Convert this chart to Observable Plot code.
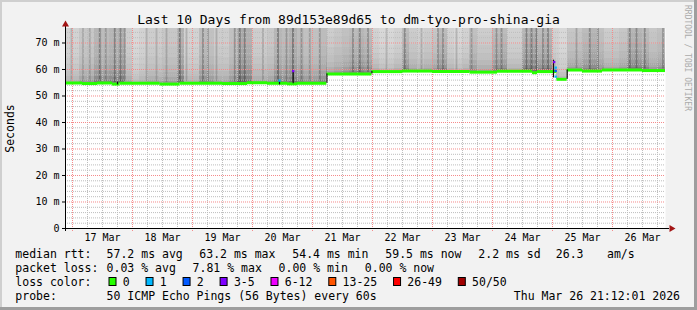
<!DOCTYPE html>
<html><head><meta charset="utf-8">
<script src="https://cdn.jsdelivr.net/npm/d3@7"></script>
<script src="https://cdn.jsdelivr.net/npm/@observablehq/plot@0.6"></script>
<style>
html,body{margin:0;padding:0;background:#f2f2f2;}
#chart{position:relative;width:697px;height:310px;overflow:hidden;}
#chart svg{position:absolute;left:0;top:0;}
</style></head><body><div id="chart"></div>
<script>
// ---------------- DATA ----------------
const titleText = "Last 10 Days from 89d153e89d65 to dm-tyo-pro-shina-gia";
const startISO = "2026-03-16T21:12:01";
const endISO = "2026-03-26T21:12:01";
const yMax = 75.47; // ms

// median rtt (ms), step series: value starts at time
const medianTimes = ["2026-03-16T21:12","2026-03-17T04:00","2026-03-17T10:00","2026-03-17T16:00","2026-03-17T19:00",
  "2026-03-18T11:00","2026-03-18T19:00","2026-03-19T12:00","2026-03-19T22:00","2026-03-20T06:00","2026-03-20T14:00",
  "2026-03-20T18:00","2026-03-21T05:45","2026-03-21T23:45","2026-03-22T12:00","2026-03-23T00:00","2026-03-23T15:00",
  "2026-03-24T02:00","2026-03-24T16:00","2026-03-24T18:00","2026-03-25T01:45","2026-03-25T05:53","2026-03-25T12:00",
  "2026-03-25T20:00","2026-03-26T12:00"];
const medianValues = [54.9,54.7,54.9,54.5,54.8,54.5,54.8,54.7,55.0,54.8,54.6,54.8,58.3,59.2,59.4,59.2,59.0,
  59.3,58.8,59.2,56.3,59.8,59.4,59.8,59.6];

// smoke: darkness of the ping spread in 3-hour bins from Mar 16 21:00 (0..1)
const smokeBinStartISO = "2026-03-16T21:00";
const smokeIntensity = [0.4,0.4,0.5,0.5,0.65,0.6,0.65,0.7,0.45,0.35,0.4,0.45,0.45,0.5,0.5,0.7,0.4,0.4,0.6,0.55,
  0.45,0.45,0.55,0.75,0.7,0.45,0.45,0.5,0.65,0.6,0.7,0.6,0.55,0.55,0.6,0.45,0.5,0.55,0.6,0.65,
  0.6,0.4,0.35,0.35,0.4,0.6,0.45,0.4,0.45,0.5,0.6,0.4,0.35,0.4,0.55,0.45,0.45,0.6,0.6,0.4,
  0.4,0.65,0.7,0.6,0.65,0.4,0.35,0.5,0.5,0.6,0.65,0.55,0.45,0.45,0.5,0.65,0.65,0.6,0.5,0.55,0.55];
// ping spread above the median (ms) bounding each smoke band
const smokeBandEdges = [0, 1, 2.5, 4.5, 7, 10, 14, 30];

// dark streaks in the smoke: hours after Mar 17 00:00, darkness
const streakHours = [-0.2,4.4,7.1,11.1,13.5,17.1,19.4,21.1,29.8,33.8,37.8,43.1,45.8,52.4,54.4,57.8,65.1,67.1,69.1,76.4,
  82.4,85.8,88.4,91.8,95.1,99.1,112.4,115.1,118.4,125.8,133.1,139.8,146.4,148.4,153.8,159.8,169.8,171.8,181.8,183.8,
  185.8,188.4,190.4,201.8,207.1,210.4,223.1,225.8,229.1,236.4];
const streakStrength = [0.4,0.35,0.4,0.7,0.45,0.7,0.6,0.7,0.4,0.35,0.4,0.75,0.4,0.6,0.5,0.4,0.6,0.7,0.7,0.4,
  0.75,0.5,0.8,0.55,0.45,0.5,0.6,0.65,0.55,0.35,0.65,0.4,0.6,0.55,0.4,0.5,0.55,0.6,0.7,0.65,
  0.7,0.6,0.65,0.45,0.6,0.6,0.65,0.6,0.65,0.55];

// dense smoke at median jumps: time, low ms, high ms
const spikeTimes = ["2026-03-17T18:00","2026-03-20T10:48","2026-03-20T16:17","2026-03-21T05:45","2026-03-21T23:45","2026-03-25T00:24","2026-03-25T05:53"];
const spikeLow =  [54.2,54.2,54.6,54.8,58.3,56.8,56.3];
const spikeHigh = [55.2,55.5,59.6,58.3,59.2,63.5,59.8];

// loss-coloured median samples: time, ms, loss class index
const lossTimes = ["2026-03-20T16:17","2026-03-25T00:41","2026-03-25T01:17","2026-03-25T01:17","2026-03-25T01:17","2026-03-20T10:48"];
const lossValues = [59.4,62.8,60.7,59.5,57.3,55.8];
const lossClass = [3,3,1,2,1,1];

const lossLabels = ["0","1","2","3-5","6-12","13-25","26-49","50/50"];
const lossColors = ["#26ff00","#00b8ff","#0059ff","#7e00ff","#ee00ff","#ff5500","#ff0000","#a10000"];

const yTicks = [0,10,20,30,40,50,60,70];
const dayLabels = ["17 Mar","18 Mar","19 Mar","20 Mar","21 Mar","22 Mar","23 Mar","24 Mar","25 Mar","26 Mar"];

const legendRtt = ["median rtt:","57.2 ms avg","63.2 ms max","54.4 ms min","59.5 ms now","2.2 ms sd","26.3","am/s"];
const legendLoss = ["packet loss:","0.03 % avg","7.81 % max","0.00 % min","0.00 % now"];
const legendProbe = ["probe:","50 ICMP Echo Pings (56 Bytes) every 60s"];
const stampText = "Thu Mar 26 21:12:01 2026";
const watermark = "RRDTOOL / TOBI OETIKER";

// ---------------- BUILD ----------------
const T = s => new Date(s + (s.length === 16 ? ":00Z" : "Z"));
const startTime = T(startISO), endTime = T(endISO);
const HOUR = 3600e3;
const day0 = T("2026-03-17T00:00");

const medianSeries = medianTimes.map((t, i) => ({t: T(t), v: medianValues[i]}));
const medianSegs = medianSeries.map((d, i) => ({
  t0: d.t < startTime ? startTime : d.t,
  t1: i + 1 < medianSeries.length ? medianSeries[i + 1].t : endTime, v: d.v}));
const medianAt = t => { let v = medianSeries[0].v; for (const d of medianSeries) { if (d.t <= t) v = d.v; else break; } return v; };

const binStart = T(smokeBinStartISO);
const cuts = new Set([startTime.getTime(), endTime.getTime()]);
smokeIntensity.forEach((_, k) => { const c = binStart.getTime() + k * 3 * HOUR; if (c > startTime && c < endTime) cuts.add(c); });
medianSeries.forEach(d => { if (d.t > startTime && d.t < endTime) cuts.add(d.t.getTime()); });
const cutList = [...cuts].sort((a, b) => a - b);
const bandDark = [200, 175, 155, 140, 128, 118, 112];
const smokeRects = [];
for (let i = 0; i + 1 < cutList.length; i++) {
  const a = new Date(cutList[i]), b = new Date(cutList[i + 1]);
  const k = Math.floor((a - binStart) / (3 * HOUR));
  const I = smokeIntensity[Math.min(k, smokeIntensity.length - 1)];
  const base = medianAt(a);
  for (let j = 0; j + 1 < smokeBandEdges.length; j++) {
    const L = Math.round(255 - I * bandDark[j]);
    smokeRects.push({x1: a, x2: b, y1: base + smokeBandEdges[j], y2: base + smokeBandEdges[j + 1], fill: `rgb(${L},${L},${L})`});
  }
}
const streaks = streakHours.map((h, i) => { const c = new Date(+day0 + h * HOUR);
  return {x1: new Date(+c - 22 * 60e3), x2: new Date(+c + 22 * 60e3), y1: medianAt(c) + 0.6, y2: yMax + 5, s: streakStrength[i]}; })
  .filter(d => d.x2 > startTime);
const spikes = spikeTimes.map((t, i) => ({t: T(t), lo: spikeLow[i], hi: spikeHigh[i]}));
const lossPts = lossTimes.map((t, i) => ({t: T(t), v: lossValues[i], c: lossColors[lossClass[i]]}));

const midnights = dayLabels.map((_, i) => new Date(+day0 + i * 24 * HOUR));
const noons = dayLabels.map((_, i) => new Date(+day0 + (i * 24 + 12) * HOUR));
const minorX = d3.utcHour.every(6).range(startTime, endTime).filter(d => d.getUTCHours() !== 0);
const minorY = d3.range(2, yMax, 2).filter(v => v % 10 !== 0);
const majorY = yTicks.filter(v => v > 0);

const dot = "1,1";
const plot = Plot.plot({
  width: 697, height: 310,
  marginTop: 28, marginBottom: 82, marginLeft: 65, marginRight: 32,
  style: {background: "transparent", fontFamily: "'DejaVu Sans Mono', monospace", fontSize: "10px", color: "#000", overflow: "visible"},
  x: {type: "utc", domain: [startTime, endTime]},
  y: {domain: [0, yMax]},
  color: {type: "identity"},
  marks: [
    Plot.frame({fill: "#fff", stroke: "none"}),
    Plot.rect(smokeRects, {x1: "x1", x2: "x2", y1: "y1", y2: "y2", fill: "fill", clip: true, shapeRendering: "crispEdges"}),
    Plot.rect(streaks, {x1: "x1", x2: "x2", y1: "y1", y2: "y2", fill: "#000", fillOpacity: d => d.s * 0.4, clip: true}),
    Plot.ruleX(minorX, {stroke: "#bdbdbd", strokeDasharray: dot, insetBottom: -2}),
    Plot.ruleY(minorY, {stroke: "#bdbdbd", strokeDasharray: dot}),
    Plot.ruleX(midnights, {stroke: "#f58a8a", strokeDasharray: dot, insetBottom: -3}),
    Plot.ruleY(majorY, {stroke: "#f58a8a", strokeDasharray: dot}),
    Plot.ruleY(medianSegs, {y: "v", x1: "t0", x2: "t1", stroke: lossColors[0], strokeWidth: 3}),
    Plot.ruleX(spikes, {x: "t", y1: "lo", y2: "hi", stroke: "#111", strokeWidth: 1.2}),
    Plot.dot(lossPts, {x: "t", y: "v", fill: "c", symbol: "square", r: 1.3}),
    Plot.ruleY([0], {stroke: "#000", insetLeft: -2, insetRight: -4}),
    Plot.ruleX([startTime], {stroke: "#000", insetBottom: -3, insetTop: -2}),
    Plot.axisY(yTicks, {anchor: "left", tickSize: 3, tickPadding: 3, label: null, fontSize: 10,
      tickFormat: d => d === 0 ? "0" : `${d} m`}),
    Plot.axisX(noons, {anchor: "bottom", tickSize: 0, tickPadding: 5, label: null, fontSize: 10,
      tickFormat: (d, i) => dayLabels[i]})
  ]
});
document.getElementById("chart").appendChild(plot);

// ---------------- DECORATION ----------------
const svg = d3.select(plot);
const xs = plot.scale("x"), ys = plot.scale("y");
const X = v => xs.apply(v) + 0.5, Y = v => ys.apply(v) + 0.5;
const font = "'DejaVu Sans Mono', monospace";

svg.insert("rect", ":first-child").attr("x", 0).attr("y", 0).attr("width", 697).attr("height", 310).attr("fill", "#f2f2f2");
svg.append("rect").attr("x", 0).attr("y", 0).attr("width", 697).attr("height", 2).attr("fill", "#cfcfcf");
svg.append("rect").attr("x", 0).attr("y", 0).attr("width", 2).attr("height", 310).attr("fill", "#cfcfcf");
svg.append("rect").attr("x", 0).attr("y", 307).attr("width", 697).attr("height", 3).attr("fill", "#9e9e9e");
svg.append("rect").attr("x", 694).attr("y", 0).attr("width", 3).attr("height", 310).attr("fill", "#9e9e9e");

const ax = X(endTime) + 4, ay = Y(0);
svg.append("path").attr("d", `M${ax},${ay - 3.5}L${ax + 6},${ay}L${ax},${ay + 3.5}Z`).attr("fill", "#a31515");
const tx = X(startTime), ty = Y(yMax) - 2;
svg.append("path").attr("d", `M${tx - 3.5},${ty}L${tx},${ty - 6}L${tx + 3.5},${ty}Z`).attr("fill", "#a31515");

svg.append("text").attr("x", 348.5).attr("y", 24).attr("text-anchor", "middle")
  .attr("font-family", font).attr("font-size", 13).attr("fill", "#000").text(titleText);
svg.append("text").attr("transform", `translate(14,${(Y(0) + Y(yMax)) / 2}) rotate(-90)`).attr("text-anchor", "middle")
  .attr("font-family", font).attr("font-size", 11.5).attr("fill", "#000").text("Seconds");
svg.append("text").attr("transform", "translate(685,5) rotate(90)").attr("text-anchor", "start")
  .attr("font-family", font).attr("font-size", 8).attr("fill", "#aaaaaa").text(watermark);

const lg = svg.append("g").attr("font-family", font).attr("font-size", 11.5).attr("fill", "#000")
  .attr("text-anchor", "start").attr("xml:space", "preserve");
const rowY = [257.5, 272, 286, 300];
const rttX = [16, 107.3, 200, 293, 386, 479, 556.5, 607.7];
legendRtt.forEach((s, i) => lg.append("text").attr("x", rttX[i] - 0.7).attr("y", rowY[0]).text(s));
const lossX = [16, 107.3, 193.3, 279.3, 365.5];
legendLoss.forEach((s, i) => lg.append("text").attr("x", lossX[i] - 0.7).attr("y", rowY[1]).text(s));
lg.append("text").attr("x", 15.3).attr("y", rowY[2]).text("loss color:");
let bx = 108.5;
lossLabels.forEach((s, i) => {
  lg.append("rect").attr("x", bx + 0.5).attr("y", rowY[2] - 8.5).attr("width", 7).attr("height", 8)
    .attr("fill", lossColors[i]).attr("stroke", "#000").attr("stroke-width", 1);
  lg.append("text").attr("x", bx + 14.3).attr("y", rowY[2]).text(s);
  bx += 30.1 + s.length * 6.93;
});
const probeX = [16, 107.3];
legendProbe.forEach((s, i) => lg.append("text").attr("x", probeX[i] - 0.7).attr("y", rowY[3]).text(s));
lg.append("text").attr("x", 680).attr("y", rowY[3]).attr("text-anchor", "end").text(stampText);
</script></body></html>
